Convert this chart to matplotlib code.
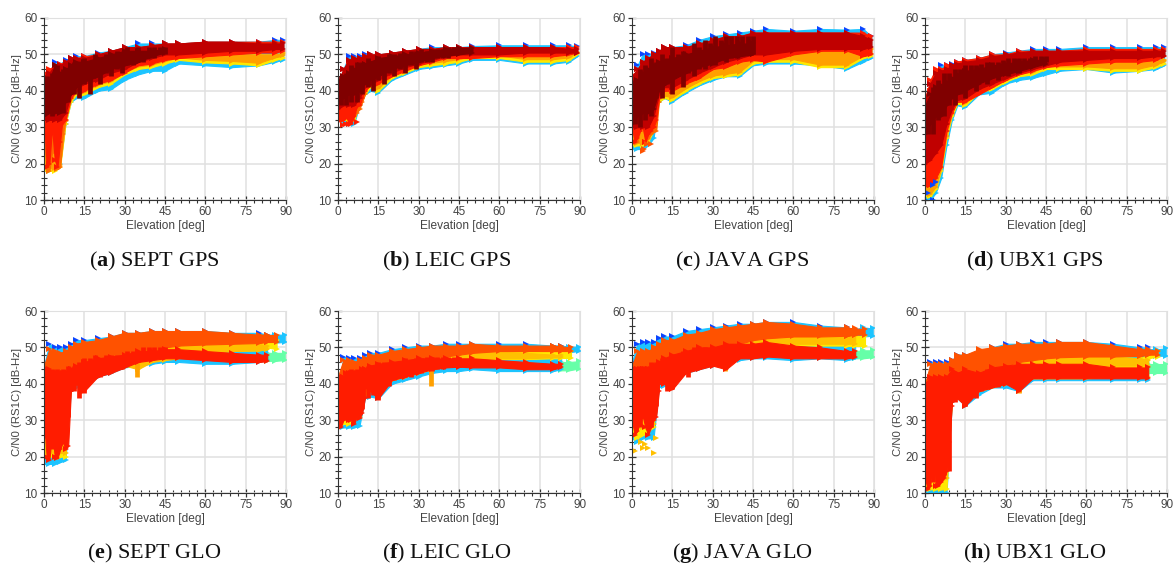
import matplotlib
matplotlib.use("Agg")
import matplotlib.pyplot as plt

plt.rcParams["font.family"] = ["Liberation Sans", "DejaVu Sans"]
plt.rcParams["mathtext.fontset"] = "custom"
plt.rcParams["mathtext.bf"] = "Liberation Serif:bold"
plt.rcParams["mathtext.rm"] = "Liberation Serif"

# elevation grids the envelopes were read at
el_gps = [0, 2, 4, 6, 8, 10, 12, 15, 20, 25, 30, 35, 40, 45, 50, 60, 70, 80, 86, 89]
el_glo = [0, 2, 4, 6, 8, 10, 12, 15, 20, 25, 30, 35, 40, 45, 50, 60, 70, 80, 83]
el_fan = [0, 1, 2, 3, 4, 5, 6, 7, 8, 9, 10]
el_tail = [80, 83, 86, 89.5]
el_tail_short = [80, 83, 86.5]
el_rag = [1, 3, 5, 7, 9, 11, 13, 15, 17, 19, 21, 23, 25, 27, 29, 31, 33, 35, 37, 39, 41, 43, 45]

# (a) SEPT GPS
a_base_lo = [18, 18, 19, 20, 31, 37, 38, 38, 40, 40.5, 43, 44.5, 45.5, 45.5, 47.5, 47, 46.5, 47, 48, 48.5]
a_base_hi = [40, 45, 48, 47.5, 48.5, 49, 49.5, 49.5, 50.5, 51, 52, 53, 53, 53, 53, 53.5, 53.5, 53.5, 54, 54]
a_yellow_lo = [18, 18, 18, 19, 31, 37, 39, 39, 41, 42, 44.5, 46, 46.5, 47.5, 48.5, 47.8, 47.5, 47, 48.5, 49]
a_yellow_hi = [30, 35, 35, 35, 38, 45, 45, 47, 47, 48, 48, 48, 49, 50, 50.5, 50.5, 50, 50, 50, 50.5]
a_red_lo = [30, 30, 30, 30, 32, 38, 40, 40, 42, 43, 45, 47, 47.5, 48.5, 49, 49.5, 50, 50.5, 50.5, 51]
a_red_hi = [45, 46, 47, 47.5, 48, 49, 49, 49.5, 50, 51, 52, 52, 52.5, 53, 53, 53.5, 53.5, 53.5, 53.5, 53.5]
a_crim_lo = [32, 32, 32, 32, 34, 39, 41, 42, 43, 45, 46, 48, 49, 50, 50, 50.5, 51, 51, 51.5, 51.5]
a_crim_hi = [44, 45, 47, 47, 48, 49, 49, 49, 50, 51, 52, 52, 52.5, 53, 53, 53.5, 53.5, 53, 53, 53]
a_dark_lo = [33, 34, 34, 34, 37, 39, 41, 42.5, 44, 46, 47, 48, 49.5, 50.5]
a_dark_hi = [43, 43, 47, 45, 46, 47, 48, 48, 49, 50, 51, 51, 51, 51.5]
a_fan_lo = [26, 19, 18, 23, 24, 18.5, 19, 28, 32, 36, 38]
a_fan_hi = [42, 44, 44, 44, 44, 44, 44, 44, 44, 45, 46]
a_tooth_lo = [33, 19, 20, 30, 21, 19, 26, 33, 36, 38, 40]
a_tooth_hi = [42, 43, 43, 43, 43, 43, 43, 43, 43, 43, 43]
a_rag_lo = [35, 33, 35, 34, 37, 39, 38, 42, 39, 44, 42, 45, 44, 46, 45, 47, 47, 48, 48, 49, 49, 50, 50]
a_rag_hi = [44, 45, 47, 46, 46, 48, 47, 49, 47, 50, 48, 50, 49, 51, 50, 52, 51, 52, 51, 52, 52, 52, 52]

# (b) LEIC GPS
b_base_lo = [32, 31.5, 31, 31, 36, 39, 40, 39.5, 43, 44.5, 46, 46.5, 47, 47.5, 48.5, 48.5, 47.5, 47.5, 48, 49.5]
b_base_hi = [42, 46, 49.5, 49.5, 49.5, 50, 50, 50, 50.5, 51, 51.5, 52, 52, 52, 52.3, 52.5, 52.5, 52.5, 52.5, 52.2]
b_yellow_lo = [32, 32, 32, 32, 36, 39, 41, 40, 43.5, 45, 46.5, 47, 47.5, 48, 49, 49, 48, 48, 48.5, 50]
b_yellow_hi = [37, 40, 42, 44, 46, 47, 48, 48, 48.5, 49, 49.5, 50, 50.5, 50.5, 51, 50.5, 50.5, 50.5, 50.5, 50.5]
b_red_lo = [33, 32, 33, 34, 37, 40, 41.5, 42, 44, 45.5, 47, 48, 49, 49, 49, 49.5, 49.5, 49.5, 50, 50.5]
b_red_hi = [42, 46, 48, 49, 49, 49.5, 50, 50, 50.5, 51, 51.5, 51.5, 52, 52, 52, 52, 52, 52, 52, 52]
b_crim_lo = [35, 36, 36, 36, 38, 41, 42, 43, 45, 46.5, 47.5, 48.5, 49.5, 50, 50, 50, 50.5, 50.5, 50.5, 50.5]
b_crim_hi = [42, 46, 48.5, 49, 49, 49.5, 50, 50, 50.5, 51, 51.5, 51.5, 52, 52, 52, 52, 52, 52, 51.5, 51.5]
b_dark_lo = [37, 38, 39, 39, 40, 42, 43, 44, 46, 47, 48, 49, 49.7, 50, 50.5]
b_dark_hi = [43, 44, 45, 46, 47, 47.5, 48, 49, 49.5, 50, 50.5, 51, 51.5, 51.7, 51.8]
b_fan_lo = [33, 32, 32, 33, 33, 32, 33, 34, 35, 37, 39]
b_fan_hi = [40, 42, 42, 42, 42, 42, 42, 42, 42, 43, 44]
b_tooth_lo = [33, 32, 33, 33, 31, 31, 33, 36, 36, 38, 40]
b_tooth_hi = [40, 42, 42, 42, 42, 42, 42, 42, 42, 43, 44]
b_rag_lo = [36, 36, 37, 37, 39, 41, 40, 43, 42, 45, 44, 46, 45, 47, 46, 48, 48, 48, 49, 49, 49, 50, 50]
b_rag_hi = [44, 45, 47, 48, 48, 49, 48, 49.5, 49, 50, 50, 50.5, 50, 51, 51, 51.5, 51, 51.5, 51.5, 51.5, 52, 52, 52]

# (c) JAVA GPS
c_base_lo = [24, 24, 24, 25, 27, 37, 38, 37, 39.5, 41.5, 43, 44, 44, 47, 47.5, 47.5, 47, 46, 48, 49]
c_base_hi = [40, 47, 50, 50, 50.5, 51, 52, 52, 52.5, 54, 55, 55.5, 56, 56.5, 57, 56.5, 57, 56.8, 57, 55]
c_yellow_lo = [25, 25, 25, 26, 29, 37, 38, 37.5, 40, 42, 43.5, 44, 44.5, 47.5, 48, 48, 46.5, 46.5, 49, 49.5]
c_yellow_hi = [35, 37, 38, 38, 40, 44, 46, 47, 48, 48, 47, 47, 50, 51, 51, 52, 51, 52, 52, 51.5]
c_red_lo = [30, 30, 30, 30, 30, 38, 40, 40, 42, 43.5, 46, 46.5, 48, 48.5, 48, 50, 51, 51, 49.5, 50]
c_red_hi = [44, 46, 48, 49, 50, 51, 52, 52, 52, 53, 54, 55, 55, 56, 56, 56, 56, 56, 56, 55]
c_crim_lo = [30, 30, 30, 30, 33, 39, 41, 41, 43, 45, 46.5, 48, 49, 50, 50, 51, 51.5, 51.5, 51.5, 52]
c_crim_hi = [44, 46, 48, 49, 50, 51, 52, 52, 52, 53, 54, 55, 55, 56, 56, 56, 56, 56, 55, 54]
c_dark_lo = [31, 33, 34, 34, 35, 40, 41.5, 43, 45, 46.5, 47.5, 49, 49.5, 50]
c_dark_hi = [42, 43, 45, 46, 47, 48, 48.5, 49, 50, 51, 52, 52.5, 53, 53]
c_fan_lo = [30, 26, 26, 29, 30, 26, 27, 28, 29, 29, 37]
c_fan_hi = [42, 44, 44, 44, 44, 44, 44, 44, 44, 45, 45]
c_tooth_lo = [30, 26, 27, 29, 30, 26, 28, 29, 30, 32, 38]
c_tooth_hi = [42, 44, 44, 44, 44, 44, 44, 44, 44, 45, 45]
c_rag_lo = [31, 30, 32, 33, 38, 38, 42, 39, 44, 41, 45, 44, 46, 46, 48, 47, 49, 48, 49, 49, 50, 50, 50]
c_rag_hi = [43, 46, 47, 49, 48, 50, 49, 52, 50, 51, 50, 53, 52, 54, 53, 55, 54, 55, 55, 55, 55, 55, 55]

# (d) UBX1 GPS
d_base_lo = [10, 10, 12, 16, 25, 32, 36, 35.5, 39, 39.5, 42, 43, 43.5, 44.5, 45.5, 46, 45, 45.5, 46, 47]
d_base_hi = [35, 42, 45, 47, 47, 47.5, 48, 48.5, 49, 50, 50.5, 51, 51.5, 51.5, 51.5, 52, 52, 52, 52, 52]
d_yellow_lo = [11, 11, 13, 18, 27, 33, 36.5, 36, 39.5, 40.5, 42.5, 44, 44.5, 46, 46, 46, 45.5, 45.5, 46.5, 47.5]
d_yellow_hi = [24, 30, 30, 32, 36, 40, 42, 43, 44, 45, 45, 46, 47, 48, 48, 48, 48.5, 48.5, 48.5, 48.5]
d_red_lo = [15, 14, 16, 19, 29, 34, 37, 37, 39, 41, 43, 44.5, 45.5, 46.5, 47, 47.5, 48, 48, 48.5, 49.5]
d_red_hi = [38, 43, 46, 46, 47, 47, 48, 48.5, 49, 50, 50, 51, 51, 51, 51, 51.5, 51.5, 51.5, 51.5, 51.5]
d_crim_lo = [20, 21, 23, 25, 31, 35, 37.5, 38, 40.5, 42, 43.5, 45, 46, 47, 48, 48.5, 49, 49, 49.5, 49.5]
d_crim_hi = [38, 42, 45, 45.5, 46, 47, 47.5, 48, 48.5, 49.5, 50, 50.5, 51, 51, 51, 51, 51, 51, 51, 51]
d_dark_lo = [28, 31, 33, 33, 36, 38, 39, 40, 42, 43.5, 44.5, 45.5, 46.5, 47.5]
d_dark_hi = [36, 39, 41, 41.5, 42.5, 43.5, 44.5, 45.5, 46, 47, 47.5, 48, 48.5, 48.5]
d_fan_lo = [18, 16, 16, 17, 18, 19, 22, 28, 31, 33, 36]
d_fan_hi = [34, 38, 40, 40, 40, 40, 40, 40, 40, 41, 41]
d_tooth_lo = [18, 14, 14, 18, 18, 20, 24, 30, 32, 34, 37]
d_tooth_hi = [34, 38, 40, 40, 40, 40, 40, 40, 40, 41, 41]
d_rag_lo = [28, 28, 32, 33, 36, 36, 39, 38, 41, 40, 43, 42, 44, 43, 45, 44, 46, 45, 47, 47, 47, 48, 48]
d_rag_hi = [36, 41, 43, 45, 45, 46, 46, 47, 47, 47, 47.5, 48, 48, 48, 48.5, 49, 49, 49, 49, 49, 49.5, 49.5, 49.5]

# (e) SEPT GLO
e_base_lo = [18, 18, 18, 18.5, 19, 38, 39, 39, 42, 43, 44.5, 45, 45.5, 46, 46, 45.5, 45.5, 46, 46.5]
e_base_hi = [45, 51, 50, 50, 50, 51, 52, 52, 52.5, 53, 54, 54, 54.5, 54.5, 54.5, 54.5, 54, 54, 53.5]
e_yellow_lo = [20, 20, 20, 20, 20, 39, 40, 40, 42.5, 44, 46, 46, 47, 47.5, 48, 48.5, 49, 49.2, 49.5]
e_yellow_hi = [35, 40, 40, 40, 40, 44, 46, 47, 48, 49, 49, 49.5, 50.5, 51, 51.5, 52, 52, 52, 52]
e_gold_lo = [21, 21, 21, 21, 21, 39, 40, 39, 42.5, 43.5, 45, 44, 46, 46.5, 47, 48.5, 49, 49.2, 49.5]
e_gold_hi = [36, 42, 42, 42, 42, 45, 46, 47, 49, 50, 50, 50, 50.5, 51, 51.5, 51.5, 51.5, 51, 50.5]
e_ored_lo = [28, 28, 30, 30, 31, 39, 42, 42, 45, 46.5, 47.5, 48, 49, 50, 50.5, 50.8, 51, 51.2, 51.5]
e_ored_hi = [45, 49.5, 49, 48.5, 49, 50, 51, 51.5, 52, 53, 54, 54, 54.5, 54.5, 54.5, 54.5, 54, 53.5, 53.5]
e_red_lo = [33, 33, 33, 33, 34, 38, 40, 38, 42, 43, 44.5, 46, 46.5, 47, 47, 46.5, 46, 46, 46.2]
e_red_hi = [42, 43, 43, 42, 43, 44, 45, 46, 47, 47.5, 48, 49, 49, 49.5, 49.5, 49, 48.5, 48, 48]
e_fan_lo = [30, 20, 19, 27, 20, 19.5, 22, 24, 22, 23, 38]
e_fan_hi = [42, 44, 44, 43, 43, 43, 43, 43, 43, 43, 44]
e_rag_lo = [25, 22, 27, 24, 31, 38, 36, 37.5, 41, 42, 42, 44, 44, 45, 44, 46, 46, 46, 47, 47, 47, 47, 47]
e_rag_hi = [44, 44, 44, 44, 45, 45, 46, 47, 47, 48, 47, 48, 48, 48, 48, 49, 49, 49, 50, 50, 50, 50, 50]
e_blue_tail = ([51, 51.3, 51.3, 51.5], [53.5, 53.5, 53.5, 53.5])
e_green_tail = ([46.5, 46.3, 46.3, 46.5], [48.5, 48.5, 48.5, 48.5])
e_yellow_tail = ([50, 50, 49.5], [52, 52, 52])
e_ored_tail = ([51.5, 51.5, 51.5], [53.5, 53.5, 53.5])
e_spike = (34.5, 41.8, 47)

# (f) LEIC GLO
f_base_lo = [28, 28, 28, 28, 28.5, 36, 36.5, 36, 40, 41, 42, 43, 43.5, 43.5, 44, 43.5, 43.5, 43.5, 44]
f_base_hi = [38, 47.5, 47, 47, 47, 48, 48.5, 48.5, 49.5, 50, 50.5, 50.5, 51, 51, 51, 51, 51, 50.5, 50.5]
f_yellow_lo = [29, 29, 29, 30, 31, 37, 38, 37, 41, 42, 43, 44, 45, 46, 46.5, 46.8, 46.8, 47, 47]
f_yellow_hi = [35, 40, 41, 42, 42, 44, 44.5, 45, 46, 46.5, 47, 47.5, 48, 48.5, 48.8, 49, 49, 49, 49]
f_gold_lo = [30, 30, 30, 31, 32, 38, 39, 37.5, 41, 42, 43, 44, 45, 46.2, 46.8, 47, 47, 47.3, 47.3]
f_gold_hi = [35, 40, 41, 42, 42, 45, 45, 46, 47, 47, 48, 48, 48, 48.5, 48.8, 48.8, 48.5, 48, 47.8]
f_ored_lo = [33, 33, 33, 33, 35, 39, 41, 42, 44, 45.5, 46, 47, 47.5, 48, 48.5, 49, 49, 49, 49]
f_ored_hi = [42, 46.5, 46.5, 46, 46.5, 47, 48, 48, 49, 49.5, 50, 50.5, 50.5, 50.5, 51, 50.5, 50.5, 50.5, 50]
f_red_lo = [34, 34, 34, 34, 36, 39, 38, 36, 41, 42, 43, 44, 44.5, 44.7, 44.5, 44.5, 44, 44, 44.5]
f_red_hi = [40, 42, 42, 43, 43, 44, 45, 45.5, 46, 46.5, 47, 47, 47, 47, 47, 46.5, 46, 45.5, 45.5]
f_fan_lo = [29, 28, 30, 30.5, 30, 30, 29, 31, 30.5, 32, 36]
f_fan_hi = [40, 42, 42, 43, 43, 43, 43, 43, 43, 44, 44]
f_rag_lo = [32, 30, 32, 31, 33, 36, 37, 35.5, 39, 39.5, 41, 41.5, 42, 42, 43, 43, 44, 43.5, 44, 44, 44.5, 44.5, 44.5]
f_rag_hi = [42, 43, 44, 44, 44, 45, 45, 46, 46, 46, 46, 46, 47, 46.5, 47, 47, 47.5, 47.5, 47.5, 47.5, 47.5, 47.5, 47.5]
f_blue_tail = ([48.5, 48.5, 48.7, 49], [50.5, 50.5, 50.2, 50.2])
f_green_tail = ([44, 43.7, 43.7, 44.2], [46, 46, 46, 46.2])
f_yellow_tail = ([47, 47, 47], [49, 49, 49])
f_ored_tail = ([49, 49, 49], [50.5, 50.3, 50])
f_spike = (34.5, 39.3, 44)

# (g) JAVA GLO
g_base_lo = [25, 24, 25, 25, 25, 39, 39.5, 39.5, 43, 44, 45, 45.5, 46.5, 47, 47, 46.5, 47, 46.5, 47]
g_base_hi = [46, 51, 51.5, 51.5, 51.5, 52.5, 53, 53, 54.5, 55, 55.5, 56, 56.5, 56.5, 57, 57, 56, 55.5, 55]
g_yellow_lo = [26, 25, 26, 27, 28, 40, 41, 40, 44, 44.5, 46, 47, 48, 49, 50, 50.5, 50.5, 50.5, 50.7]
g_yellow_hi = [35, 40, 42, 41, 42, 46, 47, 48, 49, 50, 50, 50, 52, 53, 53, 53.5, 53.5, 53, 53]
g_gold_lo = [28, 28, 28, 28, 29, 41, 42, 41, 44, 44.5, 46.5, 48, 49, 50, 50.5, 51, 51, 51, 51]
g_gold_hi = [35, 40, 42, 42, 42, 47, 47, 48.5, 50, 50, 51, 51, 52, 52.5, 53, 53, 53, 53, 53]
g_ored_lo = [34, 34, 34, 34, 36, 42, 44, 45, 47, 48, 49, 50, 51, 52, 52.5, 53, 53, 53.2, 53.5]
g_ored_hi = [45, 49, 49, 49, 50, 51, 52, 52, 53.5, 54, 55, 55.5, 56, 56.5, 57, 56.5, 55.5, 55.5, 55]
g_red_lo = [34, 34, 34, 34, 36, 40, 40, 38.5, 43, 44, 45, 44, 47, 47, 47.5, 47, 47, 47, 47.3]
g_red_hi = [42, 44, 44, 44, 45, 46, 47, 48, 49, 50, 50, 51, 51, 51, 51.5, 50.5, 50, 49, 49]
g_fan_lo = [30, 26, 27, 30, 31, 28, 26, 28, 30, 31, 38]
g_fan_hi = [42, 44, 44, 44, 44, 44, 44, 44, 45, 45, 45]
g_rag_lo = [32, 28, 32, 28, 34, 40, 38, 38.5, 42, 43, 42, 44, 44, 45, 45, 46, 46, 44.5, 47, 47, 47.5, 47.5, 47.5]
g_rag_hi = [44, 45, 45, 46, 46, 47, 47, 48, 48, 49, 49, 50, 50, 50, 49, 50, 50, 51, 51, 51, 51, 51, 51]
g_blue_tail = ([53, 53, 53, 53.2], [55, 55, 55.5, 55.2])
g_green_tail = ([47, 47, 47, 47.3], [49, 49, 49.2, 49.2])
g_yellow_tail = ([50.5, 50.5, 50.5], [53, 53, 53])
g_ored_tail = ([53.2, 53.5, 53.5], [55.3, 55.2, 55])
g_spike = (34.5, 43.5, 47)

# (h) UBX1 GLO
h_base_lo = [10, 10, 10, 10, 10, 35, 36, 34, 37, 39, 39, 38, 41, 41, 41, 41, 41, 41, 41]
h_base_hi = [35, 46, 46, 46, 46, 46.5, 48, 48, 49, 50, 51, 51, 51.5, 51.5, 51.5, 51.5, 51, 50, 50]
h_yellow_lo = [11, 11, 11, 11, 11, 35.5, 36, 35, 38, 39, 40, 40, 41.5, 41.5, 41.5, 41.5, 42, 42, 42]
h_yellow_hi = [25, 35, 35, 35, 35, 38, 40, 42, 43, 44, 45, 46, 47, 47.5, 47.5, 47.5, 47.5, 47, 46.5]
h_gold_lo = [13, 13, 13, 14, 14, 36, 37, 36, 39, 40, 41, 38, 43, 44.5, 45, 45, 45, 45, 45]
h_gold_hi = [30, 36, 36, 38, 38, 40, 43, 44, 45, 46, 47, 47, 47.5, 47.5, 47.5, 47.5, 47.5, 47, 46.5]
h_ored_lo = [28, 28, 28, 28, 30, 36, 38, 38, 41, 43, 45, 46, 46.5, 47, 47.3, 47.5, 47.5, 47.7, 48]
h_ored_hi = [40, 45.5, 45.5, 45.5, 45.5, 46.5, 48, 48, 49.5, 50, 50.5, 51, 51, 51, 51.5, 51.5, 50.5, 49.5, 49]
h_red_lo = [28, 28, 28, 28, 30, 35, 36, 34, 38, 39, 40, 38, 41.5, 41.5, 41.5, 41.5, 41.5, 41.5, 41.5]
h_red_hi = [40, 42, 42, 42, 42, 44, 43, 44, 43, 44.5, 45, 45.5, 45.5, 45.5, 45.5, 45.5, 44.5, 44.5, 44.5]
h_fan_lo = [14, 11, 12, 25, 12, 12, 13, 14, 16, 24, 34]
h_fan_hi = [36, 40, 40, 40, 40, 40, 40, 40, 40, 41, 42]
h_rag_lo = [14, 13, 24, 15, 16, 35, 36, 34, 37, 36, 38, 38.5, 39, 39, 40, 40, 40, 40, 41.5, 41.5, 41.5, 41.5, 41.5]
h_rag_hi = [40, 40, 40, 40, 40, 41, 41, 43, 42, 43, 43, 44, 43, 44, 44, 45, 44, 45, 45, 45, 45.5, 45.5, 45.5]
h_blue_tail = ([47.7, 47.7, 47.7, 47.7], [49.5, 49.5, 49.5, 49.7])
h_green_tail = ([43, 43, 43, 43], [45.5, 45.5, 45.5, 45.5])
h_yellow_tail = ([45, 47, 47.5], [47, 48, 49])
h_ored_tail = ([47.7, 48, 48], [49.5, 49.5, 49])
h_spike = (35, 37.5, 42)

# stray low points seen below the fans
b_stray_x = [2, 3, 7]
b_stray_y = [30.5, 31, 31.5]
c_stray_x = [4, 4.5, 5.5, 7]
c_stray_y = [23.5, 24, 25.5, 25.5]
d_stray_x = [0, 1, 3, 3, 4]
d_stray_y = [10, 12, 10, 14, 15]
g_stray_x = [0.5, 1, 3.5, 4, 5, 6, 8, 9]
g_stray_y = [21.5, 21.5, 24, 22.5, 23.5, 22.5, 21, 25]

captions = ["a", "b", "c", "d", "e", "f", "g", "h"]
names = ["SEPT GPS", "LEIC GPS", "JAVA GPS", "UBX1 GPS", "SEPT GLO", "LEIC GLO", "JAVA GLO", "UBX1 GLO"]
xticks = [0, 15, 30, 45, 60, 75, 90]
yticks = [10, 20, 30, 40, 50, 60]

CYAN = "#1cc4ff"
BLUE = "#0a46ff"
GREEN = "#66ffa8"
YELLOW = "#ffe800"
GOLD = "#ffc000"
ORANGE = "#ffa000"
ORED = "#ff5200"
RED = "#ff1c00"
CRIM = "#c00000"
DARK = "#800000"

W, H = 1174, 566
fig = plt.figure(figsize=(W / 100, H / 100), dpi=100)


def band(ax, x, lo, hi, color, edge=None):
    x = x[:len(lo)]
    ax.fill_between(x, lo, hi, color=color, lw=0.8, zorder=3)
    ax.plot(x, lo, ls="", marker=">", ms=4, color=color, mew=0, zorder=3)
    ax.plot(x, hi, ls="", marker=">", ms=4, color=edge or color, mew=0, zorder=3)


def rag(ax, lo, hi, color):
    ax.vlines(el_rag, lo, hi, color=color, lw=3.4, zorder=3, capstyle="butt")


def setup(ax, i):
    ax.set_xlim(0, 90)
    ax.set_ylim(10, 60)
    ax.set_xticks(xticks)
    ax.set_yticks(yticks)
    ax.set_xticks(range(0, 91, 3), minor=True)
    ax.set_yticks(range(10, 61, 2), minor=True)
    ax.grid(True, color="#e0e0e0", lw=1.1, zorder=0)
    ax.set_axisbelow(True)
    for s in ["top", "right"]:
        ax.spines[s].set_color("#e0e0e0")
    for s in ["left", "bottom"]:
        ax.spines[s].set_color("#333333")
        ax.spines[s].set_zorder(6)
    ax.tick_params(which="major", direction="inout", length=6, width=0.9, color="#333333",
                   labelsize=8.5, labelcolor="#444444", pad=1.5)
    ax.tick_params(which="minor", direction="inout", length=4, width=0.8, color="#333333")
    ax.set_xlabel("Elevation [deg]", fontsize=8.6, color="#444444", labelpad=1)
    code = "GS1C" if i < 4 else "RS1C"
    ax.set_ylabel("C/N0 (%s) [dB-Hz]" % code, fontsize=8.2, color="#444444", labelpad=1.5)


gps = [
    (a_base_lo, a_base_hi, a_yellow_lo, a_yellow_hi, a_red_lo, a_red_hi, a_crim_lo, a_crim_hi, a_dark_lo, a_dark_hi, a_fan_lo, a_fan_hi, a_tooth_lo, a_tooth_hi, a_rag_lo, a_rag_hi),
    (b_base_lo, b_base_hi, b_yellow_lo, b_yellow_hi, b_red_lo, b_red_hi, b_crim_lo, b_crim_hi, b_dark_lo, b_dark_hi, b_fan_lo, b_fan_hi, b_tooth_lo, b_tooth_hi, b_rag_lo, b_rag_hi),
    (c_base_lo, c_base_hi, c_yellow_lo, c_yellow_hi, c_red_lo, c_red_hi, c_crim_lo, c_crim_hi, c_dark_lo, c_dark_hi, c_fan_lo, c_fan_hi, c_tooth_lo, c_tooth_hi, c_rag_lo, c_rag_hi),
    (d_base_lo, d_base_hi, d_yellow_lo, d_yellow_hi, d_red_lo, d_red_hi, d_crim_lo, d_crim_hi, d_dark_lo, d_dark_hi, d_fan_lo, d_fan_hi, d_tooth_lo, d_tooth_hi, d_rag_lo, d_rag_hi),
]
glo = [
    (e_base_lo, e_base_hi, e_yellow_lo, e_yellow_hi, e_gold_lo, e_gold_hi, e_ored_lo, e_ored_hi, e_red_lo, e_red_hi, e_fan_lo, e_fan_hi, e_rag_lo, e_rag_hi, e_blue_tail, e_green_tail, e_yellow_tail, e_ored_tail, e_spike),
    (f_base_lo, f_base_hi, f_yellow_lo, f_yellow_hi, f_gold_lo, f_gold_hi, f_ored_lo, f_ored_hi, f_red_lo, f_red_hi, f_fan_lo, f_fan_hi, f_rag_lo, f_rag_hi, f_blue_tail, f_green_tail, f_yellow_tail, f_ored_tail, f_spike),
    (g_base_lo, g_base_hi, g_yellow_lo, g_yellow_hi, g_gold_lo, g_gold_hi, g_ored_lo, g_ored_hi, g_red_lo, g_red_hi, g_fan_lo, g_fan_hi, g_rag_lo, g_rag_hi, g_blue_tail, g_green_tail, g_yellow_tail, g_ored_tail, g_spike),
    (h_base_lo, h_base_hi, h_yellow_lo, h_yellow_hi, h_gold_lo, h_gold_hi, h_ored_lo, h_ored_hi, h_red_lo, h_red_hi, h_fan_lo, h_fan_hi, h_rag_lo, h_rag_hi, h_blue_tail, h_green_tail, h_yellow_tail, h_ored_tail, h_spike),
]
strays = {1: (b_stray_x, b_stray_y, RED), 2: (c_stray_x, c_stray_y, ORED), 3: (d_stray_x, d_stray_y, BLUE), 6: (g_stray_x, g_stray_y, GOLD)}

lefts = [44, 338, 632, 925]
tops = [18, 311]
centers = [154, 447, 742, 1035]
caption_y = [261, 553]

for i in range(8):
    col = i % 4
    row = i // 4
    ax = fig.add_axes([lefts[col] / W, 1 - (tops[row] + 182) / H, 242 / W, 182 / H])
    setup(ax, i)
    if row == 0:
        base_lo, base_hi, yel_lo, yel_hi, red_lo, red_hi, crim_lo, crim_hi, dark_lo, dark_hi, fan_lo, fan_hi, tooth_lo, tooth_hi, rag_lo, rag_hi = gps[col]
        band(ax, el_gps, base_lo, base_hi, CYAN, BLUE)
        band(ax, el_gps, yel_lo, yel_hi, YELLOW)
        band(ax, el_gps, [v + 0.7 for v in yel_lo], yel_hi, ORANGE)
        band(ax, el_fan, fan_lo, fan_hi, "#ff6a00")
        band(ax, el_gps, red_lo, red_hi, RED)
        band(ax, el_fan, tooth_lo, tooth_hi, RED)
        band(ax, el_gps, crim_lo, crim_hi, CRIM)
        band(ax, el_gps, dark_lo, dark_hi, DARK)
        rag(ax, rag_lo, rag_hi, DARK)
    else:
        base_lo, base_hi, yel_lo, yel_hi, gold_lo, gold_hi, ored_lo, ored_hi, red_lo, red_hi, fan_lo, fan_hi, rag_lo, rag_hi, blue_t, green_t, yel_t, ored_t, spike = glo[col]
        band(ax, el_tail, blue_t[0], blue_t[1], CYAN)
        band(ax, el_tail, green_t[0], green_t[1], GREEN)
        band(ax, el_glo, base_lo, base_hi, CYAN, BLUE)
        band(ax, el_tail_short, yel_t[0], yel_t[1], YELLOW)
        band(ax, el_glo, yel_lo, yel_hi, YELLOW)
        band(ax, el_glo, gold_lo, gold_hi, GOLD)
        ax.vlines(spike[0], spike[1], spike[2], color=ORANGE, lw=3.4, zorder=3)
        band(ax, el_tail_short, ored_t[0], ored_t[1], ORED)
        band(ax, el_glo, ored_lo, ored_hi, ORED)
        band(ax, el_fan, fan_lo, fan_hi, RED)
        band(ax, el_glo, red_lo, red_hi, RED)
        rag(ax, rag_lo, rag_hi, RED)
    if i in strays:
        ax.plot(strays[i][0], strays[i][1], ls="", marker=">", ms=4, color=strays[i][2], mew=0, zorder=3)
    fig.text(centers[col] / W, 1 - caption_y[row] / H, r"($\mathbf{%s}$) %s" % (captions[i], names[i]),
             ha="center", va="center", fontsize=16, family=["Liberation Serif"], color="#111111")

fig.savefig("out.png", dpi=100)
